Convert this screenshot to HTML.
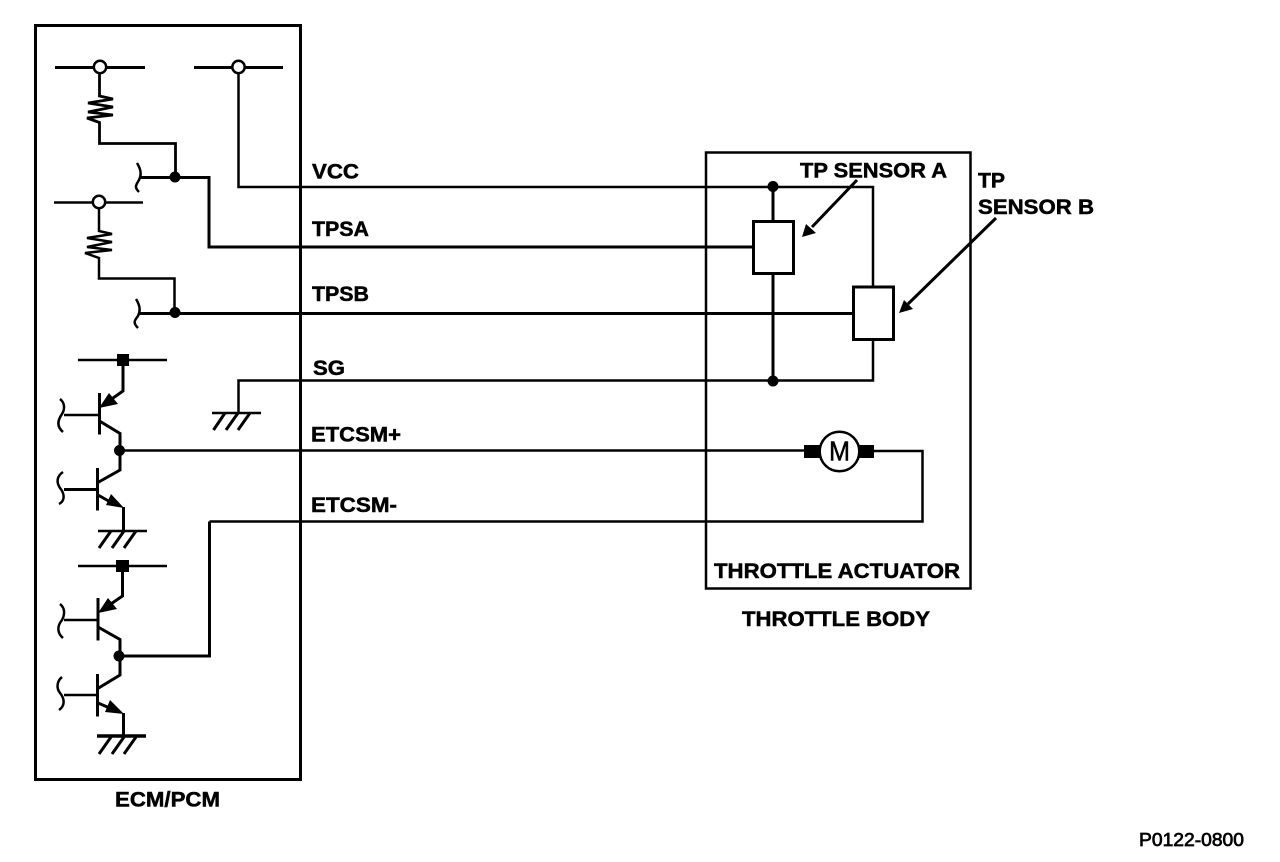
<!DOCTYPE html>
<html><head><meta charset="utf-8"><style>
html,body{margin:0;padding:0;background:#fff}
svg{display:block}
text{font-family:"Liberation Sans",sans-serif;font-weight:bold;fill:#000;stroke:#000;stroke-width:.5;font-size:21px}
</style></head><body>
<svg width="1280" height="862" viewBox="0 0 1280 862" xmlns="http://www.w3.org/2000/svg">
<rect width="1280" height="862" fill="#fff"/>
<g fill="none" stroke="#000" stroke-width="2.5" stroke-linejoin="miter">
<rect x="35.5" y="25.5" width="265" height="754" stroke-width="3"/>
<rect x="706" y="152.5" width="264.5" height="436"/>

<!-- top buses -->
<path d="M55 67.5H145" stroke-width="3"/>
<path d="M194 67.5H283" stroke-width="3"/>
<path d="M54 202.5H143"/>
<!-- R1 -->
<path d="M99.5 73V96L113 99 88 103 113 107 88 112 113 115 87 118 99.5 122.500V143.500H175.500V177" stroke-width="2.800"/>
<path d="M140 177.500H209V247H752.500" stroke-width="3"/>
<path d="M137 163C142 171 141 176 139 180C136 185 134 187 139 192"/>
<!-- R2 -->
<path d="M99 208V231L112 234 87 238 112 242 87 247 112 250 85 253 99 258V278.500H174.500V313"/>
<path d="M140 313.500H853" stroke-width="3"/>
<path d="M136 299C141 307 140 312 138 316C134 321 133 323 138 328"/>
<!-- VCC -->
<path d="M238.500 72V187H873V287"/>
<path d="M873 340V380.500H238.500V413"/>
<!-- sg ground -->
<path d="M212 413H261"/>
<path d="M213.500 430L225 413M226 430L238 413M238 430L250 413" stroke-width="3"/>

<!-- transistor 1 -->
<path d="M78 360H167"/>
<path d="M123 360V391L106 403" stroke-width="3"/>
<path d="M99.500 393V434.500" stroke-width="3"/>
<path d="M64 415H99.500"/>
<path d="M60 399C65 403 65 409 62 414C57 421 57 427 63 432"/>
<path d="M99.500 421L120 433.500V470L97 483" stroke-width="3"/>
<path d="M119 450.500H805"/>
<path d="M97.500 468V510.500" stroke-width="3"/>
<path d="M64 489.500H97.500" stroke-width="3"/>
<path d="M63 472C57 476 56 482 60 488C65 494 65 501 59 504"/>
<path d="M98 495L112 503M123.500 507V531" stroke-width="3"/>
<path d="M98 531H147"/>
<path d="M99 548L111 531M112 548L124 531M124 548L136 531" stroke-width="3"/>

<!-- ETCSM- -->
<path d="M858 451H922.500V521.500H209.500"/>
<path d="M209.500 521.500V656H119" stroke-width="3"/>

<!-- transistor 2 -->
<path d="M78 566H167"/>
<path d="M122.500 566V596L105 608" stroke-width="3"/>
<path d="M98 598V640.500" stroke-width="3"/>
<path d="M64 620H98"/>
<path d="M60 604C65 608 65 614 62 620C57 626 57 633 63 638"/>
<path d="M98 627L120 639.500V675L97 689" stroke-width="3"/>
<path d="M97.500 674V716.500" stroke-width="3"/>
<path d="M64 695H97.500"/>
<path d="M62 677C57 681 56 688 60 693C65 699 65 706 59 710"/>
<path d="M98 703L112 709M123.500 713V736" stroke-width="3"/>
<path d="M97 736H146" stroke-width="3.500"/>
<path d="M99 754L111 737M112 754L124 737M124 754L136 737" stroke-width="3"/>

<!-- sensors -->
<path d="M773 187V221M773 273V381" stroke-width="3"/>
<rect x="753.500" y="221.500" width="40" height="52" fill="#fff" stroke-width="3"/>
<rect x="853.500" y="287" width="40" height="52.500" fill="#fff" stroke-width="3"/>
<path d="M857 180L812 227M996 218L908 304" stroke-width="3"/>

<!-- motor -->
<circle cx="839.500" cy="451.500" r="19.800" fill="#fff"/>
<!-- terminals -->
<circle cx="100" cy="67" r="6.200" fill="#fff"/>
<circle cx="238.500" cy="67" r="6.200" fill="#fff"/>
<circle cx="99" cy="202" r="6.200" fill="#fff"/>
</g>
<g fill="#000">
<circle cx="175" cy="177" r="5.500"/>
<circle cx="175" cy="312.500" r="5.500"/>
<circle cx="773" cy="186.500" r="5.500"/>
<circle cx="773" cy="381" r="5.500"/>
<circle cx="119.500" cy="450.500" r="5.500"/>
<circle cx="119" cy="656" r="5.500"/>
<rect x="117" y="354" width="12" height="12"/>
<rect x="116" y="560" width="13" height="12"/>
<rect x="804" y="445" width="16" height="13"/>
<rect x="858" y="445" width="16" height="13"/>
<polygon points="99,408 109,393 118,404"/>
<polygon points="98,613 108,598 117,609"/>
<polygon points="124,508 106,505 111,494"/>
<polygon points="124,714 105,712 110,700"/>
<polygon points="802,237 806,224 816,233"/>
<polygon points="899,313 904,300 913,309"/>
</g>
<text x="312" y="178.500" textLength="47" lengthAdjust="spacingAndGlyphs">VCC</text>
<text x="312" y="236" textLength="57" lengthAdjust="spacingAndGlyphs">TPSA</text>
<text x="312" y="301" textLength="57" lengthAdjust="spacingAndGlyphs">TPSB</text>
<text x="313" y="375" textLength="32" lengthAdjust="spacingAndGlyphs">SG</text>
<text x="311" y="441.500" textLength="90" lengthAdjust="spacingAndGlyphs">ETCSM+</text>
<text x="311" y="512" textLength="86" lengthAdjust="spacingAndGlyphs">ETCSM-</text>
<text x="800" y="177.500" textLength="147" lengthAdjust="spacingAndGlyphs">TP SENSOR A</text>
<text x="978" y="187.500" textLength="27" lengthAdjust="spacingAndGlyphs">TP</text>
<text x="978" y="214" textLength="116" lengthAdjust="spacingAndGlyphs">SENSOR B</text>
<text x="714" y="578" textLength="246" lengthAdjust="spacingAndGlyphs">THROTTLE ACTUATOR</text>
<text x="742" y="626" textLength="188" lengthAdjust="spacingAndGlyphs">THROTTLE BODY</text>
<text x="115" y="806.500" textLength="105" lengthAdjust="spacingAndGlyphs">ECM/PCM</text>
<text x="1139" y="846" style="font-size:18px;font-weight:normal;stroke-width:.7" textLength="105" lengthAdjust="spacingAndGlyphs">P0122-0800</text>
<text x="829" y="460.500" style="font-size:28px;font-weight:normal;stroke-width:.5" textLength="21" lengthAdjust="spacingAndGlyphs">M</text>
</svg>
</body></html>
